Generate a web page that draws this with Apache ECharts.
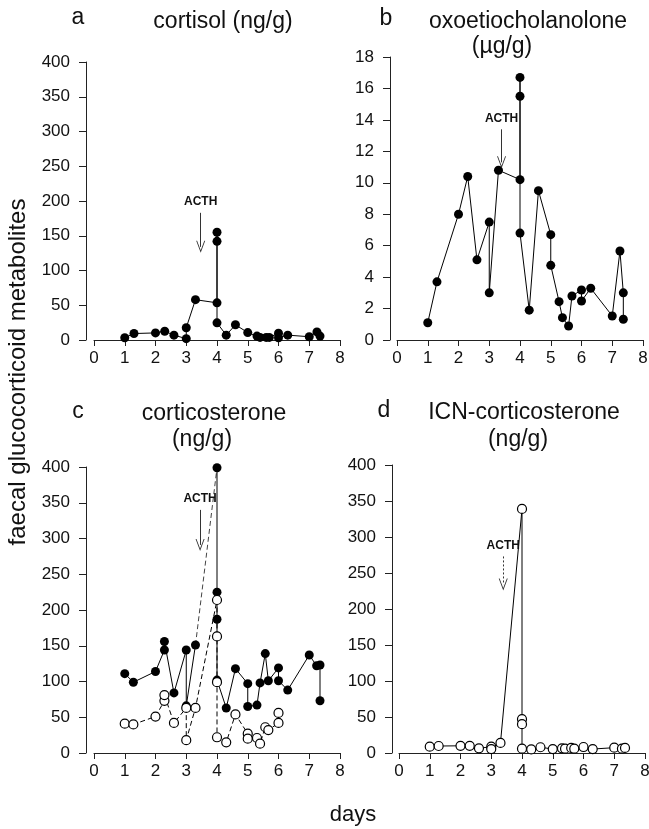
<!DOCTYPE html>
<html>
<head>
<meta charset="utf-8">
<script src="https://cdn.jsdelivr.net/npm/echarts@6/dist/echarts.min.js"></script>
<style>
  html, body { margin: 0; padding: 0; background: #fff; }
  #main { width: 649px; height: 829px; }
</style>
</head>
<body>
<div id="main"></div>
<script>
// days after start, one array per panel (repeated days = several samples that day)
var aDays = [1.0, 1.3, 2.0, 2.3, 2.6, 3.0, 3.0, 3.3, 4.0, 4.0, 4.0, 4.0, 4.3, 4.6, 5.0, 5.3, 5.4, 5.6, 5.7, 6.0, 6.0, 6.3, 7.0, 7.25, 7.35];
var cortisol = [3.3, 9.3, 10.2, 12.6, 7, 1.9, 17.7, 58, 53.5, 155, 142, 24.7, 7, 21.9, 10.7, 5.6, 3.7, 3.7, 3.7, 9.8, 3.3, 7, 4.7, 11.6, 5.6];

var bDays = [1.0, 1.3, 2.0, 2.3, 2.6, 3.0, 3.0, 3.3, 4.0, 4.0, 4.0, 4.0, 4.3, 4.6, 5.0, 5.0, 5.27, 5.38, 5.58, 5.69, 6.0, 6.0, 6.3, 7.0, 7.25, 7.36, 7.36];
var oxoetio = [1.1, 3.7, 8.0, 10.4, 5.1, 7.5, 3.0, 10.8, 10.2, 16.7, 15.5, 6.8, 1.9, 9.5, 6.7, 4.75, 2.44, 1.42, 0.89, 2.8, 3.18, 2.48, 3.29, 1.53, 5.66, 3.0, 1.32];

var cDays = [1.0, 1.28, 2.0, 2.29, 2.29, 2.6, 3.0, 3.0, 3.3, 4.0, 4.0, 4.0, 4.0, 4.3, 4.6, 5.0, 5.0, 5.3, 5.4, 5.57, 5.67, 6.0, 6.0, 6.3, 7.0, 7.24, 7.35, 7.35];
var corticoFilled = [111, 99, 114, 144, 156, 84, 144, 66, 151, 399, 225, 187, 102, 63, 118, 97, 65, 67, 98, 139, 101, 119, 101, 88, 137, 122, 123, 73];
var cOpenDays = [1.0, 1.28, 2.0, 2.29, 2.29, 2.6, 3.0, 3.0, 3.3, 4.0, 4.0, 4.0, 4.0, 4.3, 4.6, 5.0, 5.0, 5.3, 5.4, 5.57, 5.67, 6.0, 6.0];
var corticoOpen = [41, 40, 51, 73, 81, 42, 63, 18, 63, 214, 163, 99, 22, 15, 54, 27, 20, 21, 13, 36, 32, 42, 56];

var dDays = [1.0, 1.29, 2.0, 2.3, 2.6, 3.0, 3.0, 3.3, 4.0, 4.0, 4.0, 4.0, 4.3, 4.6, 5.0, 5.3, 5.4, 5.6, 5.7, 6.0, 6.3, 7.0, 7.25, 7.35];
var icnCortico = [8.8, 9.7, 10, 10, 6.5, 8.8, 5.5, 14, 339, 47, 40, 6, 5, 8, 5.5, 6.5, 6, 7, 6, 8.3, 5.5, 7.4, 6, 7];

var dayTicks = [0, 1, 2, 3, 4, 5, 6, 7, 8];

// ACTH arrow per panel: [day, top value, tip value]
var acth = [[3.47, 183, 134], [3.4, 13.4, 11.3], [3.45, 340, 291], [3.39, 273, 234]];

function pairs(xs, ys) {
    return xs.map(function (x, i) { return [x, ys[i]]; });
}

var FONT = '"Liberation Sans", Arial, sans-serif';
var ARROW = 'path://M5,0 L10,12 L9,12 L5,2.5 L1,12 L0,12 Z';

var myChart = echarts.init(document.getElementById('main'));

function xAxis(i) {
    return {
        type: 'value', gridIndex: i, min: dayTicks[0], max: dayTicks[dayTicks.length - 1], interval: 1,
        axisLine: { show: true, onZero: false, lineStyle: { color: '#222', width: 1 } },
        axisTick: { show: true, length: 6, lineStyle: { color: '#222' } },
        axisLabel: { fontSize: 17, color: '#111', margin: 10, fontFamily: FONT },
        splitLine: { show: false }
    };
}

function yAxis(i, max, step, off) {
    return {
        type: 'value', gridIndex: i, min: 0, max: max, interval: step, offset: off,
        axisLine: { show: true, onZero: false, lineStyle: { color: '#222', width: 1 } },
        axisTick: { show: true, length: 7, lineStyle: { color: '#222' } },
        axisLabel: { fontSize: 17, color: '#111', margin: 16, fontFamily: FONT },
        splitLine: { show: false }
    };
}

function acthLine(k, dashed) {
    var a = acth[k];
    return {
        silent: true,
        symbol: ['none', ARROW],
        symbolSize: [9, 12],
        lineStyle: { color: '#333', width: 1, type: dashed ? [2, 2] : 'solid' },
        label: { show: true, position: 'start', formatter: 'ACTH', fontWeight: 'bold', fontSize: 12, color: '#111', fontFamily: FONT },
        data: [[{ coord: [a[0], a[1]] }, { coord: [a[0], a[2]] }]]
    };
}

function filled(i, data, extra) {
    var s = {
        type: 'line', xAxisIndex: i, yAxisIndex: i, data: data,
        symbol: 'circle', symbolSize: 9,
        itemStyle: { color: '#000' },
        lineStyle: { color: '#000', width: 1 }
    };
    if (extra) s.markLine = extra;
    return s;
}

function open(i, data, dashed, extra) {
    var s = {
        type: 'line', xAxisIndex: i, yAxisIndex: i, data: data,
        symbol: 'circle', symbolSize: 9,
        itemStyle: { color: '#fff', borderColor: '#000', borderWidth: 1.2 },
        lineStyle: { color: '#000', width: 1, type: dashed ? [5, 3] : 'solid' },
        z: 3
    };
    if (extra) s.markLine = extra;
    return s;
}

function txt(x, y, s, size, rot) {
    return {
        type: 'text', x: x, y: y, rotation: rot || 0,
        style: { text: s, font: size + 'px ' + FONT, fill: '#111', textAlign: 'center', textVerticalAlign: 'middle' }
    };
}

var cData = pairs(cDays, corticoFilled);

option = {
    animation: false,
    backgroundColor: '#fff',
    textStyle: { fontFamily: FONT },
    grid: [
        { left: 94, top: 62, width: 246, height: 278, outerBoundsMode: 'none' },
        { left: 397, top: 57, width: 246, height: 283, outerBoundsMode: 'none' },
        { left: 94, top: 467, width: 246, height: 286, outerBoundsMode: 'none' },
        { left: 399, top: 465, width: 246, height: 288, outerBoundsMode: 'none' }
    ],
    xAxis: [xAxis(0), xAxis(1), xAxis(2), xAxis(3)],
    yAxis: [yAxis(0, 400, 50, 8), yAxis(1, 18, 2, 7), yAxis(2, 400, 50, 8), yAxis(3, 400, 50, 7)],
    graphic: [
        txt(78, 18, 'a', 23), txt(223, 22, 'cortisol (ng/g)', 23),
        txt(386, 19, 'b', 23), txt(528, 22, 'oxoetiocholanolone', 23), txt(502, 47, '(µg/g)', 23),
        txt(78, 412, 'c', 23), txt(214, 414, 'corticosterone', 23), txt(202, 440, '(ng/g)', 23),
        txt(384, 411, 'd', 23), txt(524, 413, 'ICN-corticosterone', 23), txt(518, 440, '(ng/g)', 23),
        txt(18, 372, 'faecal glucocorticoid metabolites', 24, Math.PI / 2),
        txt(353, 815, 'days', 22)
    ],
    series: [
        filled(0, pairs(aDays, cortisol), acthLine(0)),
        filled(1, pairs(bDays, oxoetio), acthLine(1)),
        // corticosterone: the rise to the peak is drawn dashed
        filled(2, cData.slice(0, 9), acthLine(2)),
        filled(2, cData.slice(9)),
        {
            type: 'line', xAxisIndex: 2, yAxisIndex: 2, data: cData.slice(8, 10), symbol: 'none',
            lineStyle: { color: '#444', width: 1, type: [5, 3] }, z: 1
        },
        open(2, pairs(cOpenDays, corticoOpen), true),
        open(3, pairs(dDays, icnCortico), false, acthLine(3, true))
    ]
};

myChart.setOption(option);
</script>
</body>
</html>
